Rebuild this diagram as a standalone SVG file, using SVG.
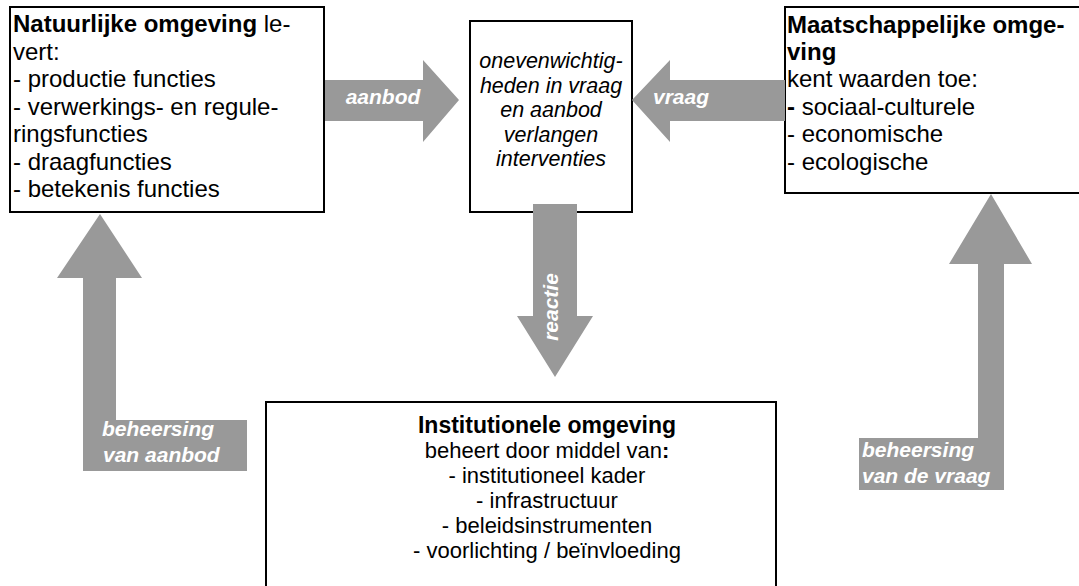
<svg xmlns="http://www.w3.org/2000/svg" width="1079" height="586" viewBox="0 0 1079 586">
<style>
.box{fill:#fff;stroke:#000;stroke-width:2}
.t{font-family:"Liberation Sans",Arial,sans-serif;fill:#000}
.big{font-size:24px}
.mid{font-size:21.5px;font-style:italic}
.bot{font-size:22px}
.b{font-weight:bold}
.bb{font-weight:bold;font-size:23px}
.arrow{fill:#999999}
.lbl{font-family:"Liberation Sans",Arial,sans-serif;font-size:21px;font-weight:bold;font-style:italic;fill:#fff}
</style>
<rect width="1079" height="586" fill="#fff"/>
<g id="natuurlijke">
<rect class="box" x="10" y="7" width="314" height="205"/>
<text class="t big" x="13" y="32"><tspan class="b">Natuurlijke omgeving</tspan> le-</text>
<text class="t big" x="13" y="59.5">vert:</text>
<text class="t big" x="13" y="87">- productie functies</text>
<text class="t big" x="13" y="114.5">- verwerkings- en regule-</text>
<text class="t big" x="13" y="142">ringsfuncties</text>
<text class="t big" x="13" y="169.5">- draagfuncties</text>
<text class="t big" x="13" y="197">- betekenis functies</text>
</g>
<g id="onevenwichtigheden">
<rect class="box" x="470" y="21" width="162" height="191"/>
<g class="t mid" text-anchor="middle">
<text x="551" y="68">onevenwichtig-</text>
<text x="551" y="92.5">heden in vraag</text>
<text x="551" y="117">en aanbod</text>
<text x="551" y="141.5">verlangen</text>
<text x="551" y="166">interventies</text>
</g>
</g>
<g id="maatschappelijke">
<rect class="box" x="785" y="7" width="300" height="186"/>
<text class="t big b" x="787" y="33">Maatschappelijke omge-</text>
<text class="t big b" x="787" y="60">ving</text>
<text class="t big" x="787" y="87">kent waarden toe:</text>
<text class="t big" x="787" y="115"><tspan class="b">-</tspan> sociaal-culturele</text>
<text class="t big" x="787" y="142">- economische</text>
<text class="t big" x="787" y="170">- ecologische</text>
</g>
<g id="institutionele">
<rect class="box" x="266" y="402" width="510" height="190"/>
<g class="t bot" text-anchor="middle">
<text x="547" y="433" class="bb">Institutionele omgeving</text>
<text x="547" y="458">beheert door middel van<tspan class="b">:</tspan></text>
<text x="547" y="483">- institutioneel kader</text>
<text x="547" y="508">- infrastructuur</text>
<text x="547" y="533">- beleidsinstrumenten</text>
<text x="547" y="558">- voorlichting / beïnvloeding</text>
</g>
</g>
<g id="connectors">
<polygon class="arrow" points="325,80 423,80 423,60 459,100 423,142 423,121 325,121"/>
<text class="lbl" x="383" y="104" text-anchor="middle">aanbod</text>
<polygon class="arrow" points="785,80 670,80 670,60 632,100 670,142 670,121 785,121"/>
<text class="lbl" x="653" y="104">vraag</text>
<polygon class="arrow" points="533,204 577,204 577,316 593,316 555,377 517,316 533,316"/>
<text class="lbl" transform="translate(558,307) rotate(-90)" text-anchor="middle">reactie</text>
<polygon class="arrow" points="100,214 142,278 116,278 116,420 247,420 247,471 83,471 83,278 57,278"/>
<text class="lbl" x="102" y="436">beheersing</text>
<text class="lbl" x="103" y="462">van aanbod</text>
<polygon class="arrow" points="991,194 1032,264 1004,264 1004,490 859,490 859,438 978,438 978,264 949,264"/>
<text class="lbl" x="862" y="457">beheersing</text>
<text class="lbl" x="862" y="483">van de vraag</text>
</g>
</svg>
